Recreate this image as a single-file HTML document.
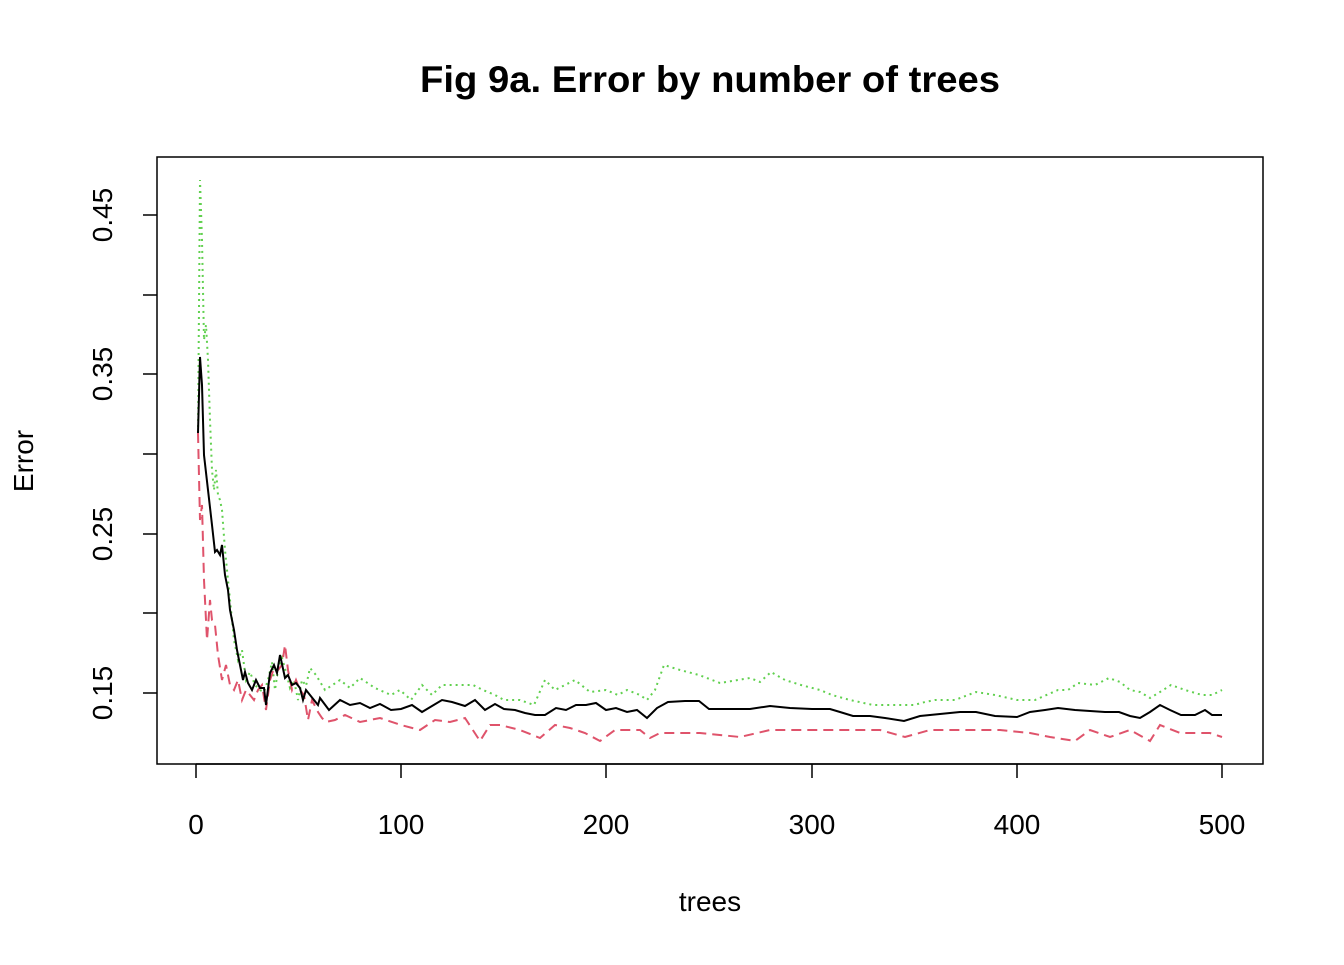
<!DOCTYPE html>
<html><head><meta charset="utf-8"><style>
body{margin:0;background:#fff}
svg text{font-family:"Liberation Sans",Arial,sans-serif}
</style></head><body>
<svg width="1344" height="960" xmlns="http://www.w3.org/2000/svg">
<rect width="1344" height="960" fill="#fff"/>
<text x="710" y="92" text-anchor="middle" font-size="37" font-weight="bold" textLength="580" lengthAdjust="spacingAndGlyphs">Fig 9a. Error by number of trees</text>
<rect x="157" y="157" width="1106" height="607" fill="none" stroke="#000" stroke-width="1.5"/>
<g stroke="#000" stroke-width="1.5">
<line x1="196" y1="764" x2="1222" y2="764"/>
<line x1="196" y1="764" x2="196" y2="778"/><line x1="401" y1="764" x2="401" y2="778"/><line x1="606" y1="764" x2="606" y2="778"/><line x1="812" y1="764" x2="812" y2="778"/><line x1="1017" y1="764" x2="1017" y2="778"/><line x1="1222" y1="764" x2="1222" y2="778"/>
<line x1="143" y1="215" x2="157" y2="215"/><line x1="143" y1="295" x2="157" y2="295"/><line x1="143" y1="374" x2="157" y2="374"/><line x1="143" y1="454" x2="157" y2="454"/><line x1="143" y1="534" x2="157" y2="534"/><line x1="143" y1="613" x2="157" y2="613"/><line x1="143" y1="693" x2="157" y2="693"/>
</g>
<g font-size="28" text-anchor="middle">
<text x="196" y="834">0</text><text x="401" y="834">100</text><text x="606" y="834">200</text><text x="812" y="834">300</text><text x="1017" y="834">400</text><text x="1222" y="834">500</text>
<text x="710" y="911">trees</text>
<text transform="translate(112,215) rotate(-90)">0.45</text>
<text transform="translate(112,374) rotate(-90)">0.35</text>
<text transform="translate(112,534) rotate(-90)">0.25</text>
<text transform="translate(112,693) rotate(-90)">0.15</text>
<text transform="translate(33,461) rotate(-90)">Error</text>
</g>
<polyline fill="none" stroke="#61D04F" stroke-width="2" stroke-dasharray="2,4" points="198,433 200,180 202,240 204,340 206,325 208,360 210,420 212,470 214,490 216,470 218,495 220,500 222,510 225,550 228,580 231,610 234,640 238,660 242,650 246,680 250,672 255,685 260,690 264,692 268,680 272,662 275,690 278,670 282,658 286,672 290,688 294,680 298,700 302,680 306,686 310,668 316,675 325,690 340,680 350,688 360,678 375,688 391,695 400,690 411,700 422,685 432,695 442,685 458,685 473,685 483,690 495,695 504,700 520,700 534,705 545,680 555,690 565,685 575,680 590,692 606,690 618,695 627,690 640,695 647,700 655,690 664,665 680,670 699,675 720,683 750,678 760,682 771,672 785,680 801,685 820,690 832,695 850,700 873,705 893,705 914,705 925,702 935,700 955,700 976,692 995,695 1017,700 1035,700 1058,690 1068,690 1078,683 1095,685 1109,678 1120,682 1130,690 1140,692 1150,698 1160,692 1171,685 1185,690 1202,695 1212,695 1222,690"/>
<polyline fill="none" stroke="#DF536B" stroke-width="2" stroke-dasharray="10,6" points="198,433 200,520 202,505 204,580 207,640 210,600 212,620 215,625 218,655 222,680 226,665 230,685 234,690 238,680 242,700 246,690 250,695 254,700 258,690 262,685 266,710 270,680 274,668 278,670 282,665 285,645 288,670 292,690 296,680 300,690 304,695 308,720 312,700 318,712 322,718 326,722 335,720 345,715 360,722 380,718 401,725 420,730 435,720 450,722 465,718 480,741 490,725 500,725 520,730 540,738 555,725 570,728 585,733 600,741 615,730 640,730 650,738 660,733 700,733 740,737 770,730 800,730 840,730 880,730 905,737 930,730 960,730 1000,730 1030,733 1050,737 1075,741 1090,730 1110,737 1130,730 1150,741 1160,725 1180,733 1210,733 1222,737"/>
<polyline fill="none" stroke="#000" stroke-width="2" points="198,433 200,357 202,385 204,455 208,490 212,525 215,552 217,550 220,555 222,545 225,575 228,590 230,610 234,630 237,650 240,665 243,680 245,672 248,683 252,690 256,680 260,688 264,688 266,705 270,673 274,665 277,673 280,655 282,664 285,678 288,675 292,685 296,683 300,688 303,700 306,690 310,695 314,700 318,705 320,698 329,710 340,700 350,705 360,703 370,708 380,704 391,710 401,709 412,705 422,712 432,706 442,700 452,702 465,706 475,700 485,710 495,704 504,709 515,710 525,713 535,715 545,715 556,708 566,710 576,705 586,705 596,703 606,710 616,708 627,712 637,710 647,718 657,708 668,702 685,701 699,701 709,709 730,709 750,709 770,706 790,708 812,709 830,709 840,712 853,716 870,716 885,718 904,721 920,716 940,714 960,712 976,712 995,716 1017,717 1030,712 1045,710 1058,708 1075,710 1090,711 1105,712 1119,712 1130,716 1140,718 1150,712 1160,705 1170,710 1181,715 1195,715 1205,710 1212,715 1222,715"/>
</svg>
</body></html>
